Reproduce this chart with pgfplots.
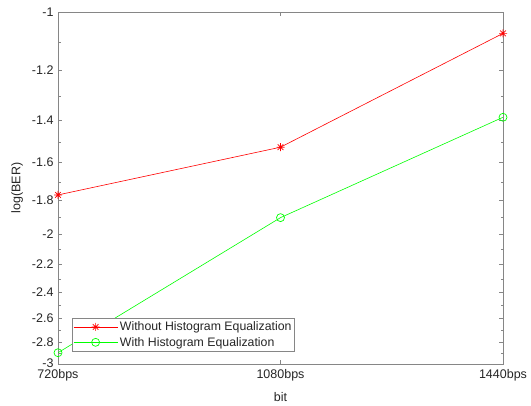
\documentclass[border=0pt]{standalone}
\usepackage{pgfplots}
\pgfplotsset{compat=1.18}
\usepackage{fontspec}
\setmainfont{Liberation Sans}
\definecolor{axgray}{HTML}{868686}
\definecolor{txt}{HTML}{262626}
\pgfdeclareplotmark{mstar}{%
  \pgfpathmoveto{\pgfqpoint{-\pgfplotmarksize}{0pt}}\pgfpathlineto{\pgfqpoint{\pgfplotmarksize}{0pt}}%
  \pgfpathmoveto{\pgfqpoint{0pt}{-\pgfplotmarksize}}\pgfpathlineto{\pgfqpoint{0pt}{\pgfplotmarksize}}%
  \pgfpathmoveto{\pgfqpoint{-0.707\pgfplotmarksize}{-0.707\pgfplotmarksize}}\pgfpathlineto{\pgfqpoint{0.707\pgfplotmarksize}{0.707\pgfplotmarksize}}%
  \pgfpathmoveto{\pgfqpoint{-0.707\pgfplotmarksize}{0.707\pgfplotmarksize}}\pgfpathlineto{\pgfqpoint{0.707\pgfplotmarksize}{-0.707\pgfplotmarksize}}%
  \pgfusepathqstroke}
\begin{document}
\begin{tikzpicture}
\begin{axis}[
  scale only axis,
  width=445pt, height=352pt,
  ymode=log, y dir=reverse,
  ymin=1, ymax=3,
  xmin=0, xmax=2,
  xtick={0,1,2},
  xticklabels={720bps,1080bps,1440bps},
  ytick={1,1.2,1.4,1.6,1.8,2,2.2,2.4,2.6,2.8,3},
  yticklabels={-1,-1.2,-1.4,-1.6,-1.8,-2,-2.2,-2.4,-2.6,-2.8,\raisebox{2pt}{-3}},
  minor ytick={1.1,1.3,1.5,1.7,1.9,2.1,2.3,2.5,2.7,2.9},
  tick align=inside,
  major tick length=4pt, minor tick length=2.5pt,
  axis line style={axgray, line width=0.8pt},
  every tick/.style={axgray, line width=0.6pt},
  tick label style={font=\fontsize{12.5}{14}\selectfont, text=txt},
  xticklabel style={yshift=-2pt},
  yticklabel style={xshift=-1pt},
  xlabel={bit}, ylabel={log(BER)},
  label style={font=\fontsize{12.5}{14}\selectfont, text=txt},
  xlabel style={at={(axis description cs:0.5,-0.094)}, anchor=center},
  ylabel style={at={(axis description cs:-0.092,0.5)}, anchor=center},
  legend style={at={(0.0315,0.036)}, anchor=south west, draw=axgray, line width=0.6pt,
    font=\fontsize{12.3}{14}\selectfont, text=txt, cells={anchor=west},
    inner xsep=1pt, inner ysep=1.5pt, row sep=1pt},
  legend image post style={line width=0.6pt},
  legend image code/.code={\draw[mark repeat=2,mark phase=2] plot coordinates {(0pt,0pt) (22pt,0pt) (44pt,0pt)};},
]
\addplot[red, line width=0.6pt, mark=mstar, mark size=4pt, mark options={line width=0.7pt}]
  coordinates {(0,1.77) (1,1.525) (2,1.069)};
\addlegendentry{Without Histogram Equalization}
\addplot[green, line width=0.6pt, mark=o, mark size=4pt, mark options={line width=0.7pt}]
  coordinates {(0,2.896) (1,1.900) (2,1.389)};
\addlegendentry{With Histogram Equalization}
\end{axis}
\pgfresetboundingbox
\path (current axis.south west) ++(-58pt,-41pt) coordinate (bbA);
\path (current axis.north east) ++(28pt,12pt) coordinate (bbB);
\path[use as bounding box] (bbA) rectangle (bbB);
\end{tikzpicture}
\end{document}
